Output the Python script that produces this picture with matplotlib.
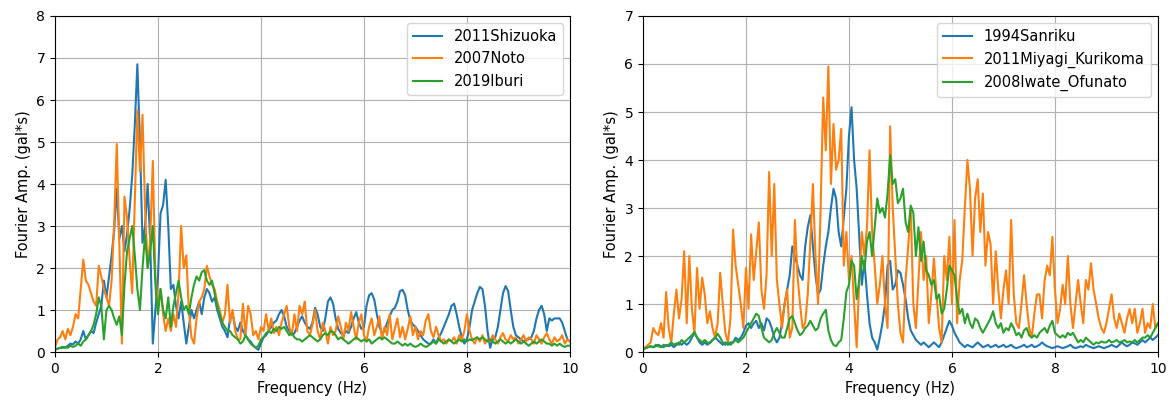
import numpy as np
import matplotlib
matplotlib.use("Agg")
import matplotlib.pyplot as plt

# frequency grid, 0.05 Hz spacing (one row of values per Hz below)
FREQ = np.round(np.arange(0, 201) * 0.05, 2)

LEFT_NAMES = ["2011Shizuoka", "2007Noto", "2019Iburi"]
RIGHT_NAMES = ["1994Sanriku", "2011Miyagi_Kurikoma", "2008Iwate_Ofunato"]

shizuoka = [
    0.05, 0.08, 0.1, 0.12, 0.1, 0.15, 0.2, 0.18, 0.25, 0.2, 0.3, 0.5, 0.3, 0.4, 0.5, 0.45, 0.7, 0.9, 1.1, 1.7,
    1.3, 1.8, 2.3, 2.9, 3.9, 2.7, 3.0, 2.4, 2.8, 3.4, 4.2, 5.4, 6.85, 5.0, 2.6, 3.0, 4.0, 2.6, 0.2, 1.0,
    1.8, 3.3, 3.5, 4.1, 3.0, 1.5, 1.6, 1.1, 0.8, 1.2, 0.7, 0.2, 0.6, 1.0, 0.8, 1.0, 1.2, 0.9, 1.3, 1.5,
    1.4, 1.2, 1.3, 1.0, 0.8, 0.6, 0.5, 0.35, 0.8, 0.9, 0.6, 0.5, 0.7, 0.5, 0.4, 0.3, 0.25, 0.15, 0.1, 0.05,
    0.2, 0.35, 0.4, 0.5, 0.6, 0.7, 0.75, 0.9, 1.0, 0.85, 0.6, 0.5, 0.4, 0.45, 0.6, 0.75, 0.85, 0.7, 0.6, 0.55,
    0.7, 1.05, 0.9, 0.6, 0.5, 0.8, 1.2, 1.3, 1.15, 0.8, 0.55, 0.45, 0.4, 0.5, 0.45, 0.6, 0.8, 0.95, 0.7, 0.55,
    0.6, 1.1, 1.35, 1.4, 1.25, 0.9, 0.6, 0.45, 0.5, 0.7, 0.85, 1.0, 1.05, 1.2, 1.45, 1.48, 1.35, 1.0, 0.75, 0.65,
    0.6, 0.5, 0.4, 0.3, 0.25, 0.2, 0.2, 0.3, 0.2, 0.35, 0.45, 0.6, 0.75, 0.9, 1.1, 1.15, 0.9, 0.6, 0.35, 0.2,
    0.3, 0.6, 1.0, 1.2, 1.4, 1.55, 1.5, 1.1, 0.5, 0.1, 0.3, 0.35, 0.6, 1.0, 1.4, 1.57, 1.45, 1.0, 0.6, 0.4,
    0.35, 0.3, 0.25, 0.3, 0.3, 0.35, 0.5, 0.8, 1.0, 1.1, 0.9, 0.5, 0.8, 0.75, 0.8, 0.8, 0.8, 0.7, 0.5, 0.3,
    0.25,
]

noto = [
    0.1, 0.3, 0.35, 0.5, 0.3, 0.55, 0.4, 0.6, 0.9, 0.8, 1.5, 2.2, 1.7, 1.6, 1.4, 1.2, 1.1, 2.05, 1.8, 1.5,
    1.3, 1.1, 1.7, 3.1, 4.95, 2.6, 0.2, 3.7, 3.2, 2.2, 1.4, 3.6, 5.75, 4.3, 5.65, 3.4, 2.0, 2.7, 4.55, 1.8,
    1.1, 1.5, 0.9, 0.5, 0.8, 0.5, 0.9, 0.6, 1.4, 3.0, 2.0, 2.3, 1.0, 0.35, 0.2, 0.8, 1.2, 1.3, 1.5, 2.05,
    1.8, 1.6, 1.5, 1.2, 1.0, 0.7, 0.9, 1.6, 0.7, 1.0, 0.5, 0.3, 0.3, 1.15, 0.4, 1.1, 0.9, 0.4, 0.5, 0.3,
    0.6, 0.5, 0.9, 0.5, 0.8, 0.45, 0.6, 0.4, 0.7, 0.9, 1.1, 0.6, 0.4, 0.9, 0.5, 1.1, 0.9, 1.2, 0.5, 0.4,
    0.65, 1.0, 0.5, 0.3, 0.7, 0.5, 0.2, 0.6, 0.4, 0.5, 0.85, 0.6, 0.3, 0.7, 0.5, 0.95, 0.6, 0.3, 0.7, 0.9,
    0.4, 0.25, 0.6, 0.8, 0.4, 0.6, 0.85, 0.3, 0.6, 0.4, 0.9, 0.3, 0.55, 0.8, 0.35, 0.6, 0.3, 0.55, 0.85, 0.4,
    0.6, 0.3, 0.5, 0.4, 0.75, 0.9, 0.5, 0.35, 0.6, 0.4, 0.25, 0.3, 0.2, 0.3, 0.25, 0.35, 0.2, 0.4, 0.3, 0.5,
    0.9, 0.5, 0.3, 0.2, 0.35, 0.25, 0.4, 0.2, 0.3, 0.25, 0.4, 0.3, 0.2, 0.35, 0.45, 0.3, 0.25, 0.4, 0.3, 0.35,
    0.2, 0.3, 0.4, 0.25, 0.35, 0.3, 0.2, 0.4, 0.3, 0.2, 0.35, 0.45, 0.3, 0.2, 0.35, 0.25, 0.3, 0.4, 0.2, 0.3,
    0.25,
]

iburi = [
    0.05, 0.08, 0.1, 0.1, 0.12, 0.1, 0.15, 0.12, 0.15, 0.2, 0.15, 0.25, 0.3, 0.4, 0.5, 0.65, 0.9, 1.3, 1.1, 0.3,
    1.0, 1.1, 1.0, 0.8, 0.65, 0.85, 0.4, 1.6, 2.4, 2.7, 3.0, 2.3, 1.5, 1.0, 2.0, 2.8, 2.0, 2.4, 3.0, 1.6,
    0.9, 1.5, 1.0, 0.8, 1.3, 0.6, 1.1, 1.4, 1.7, 1.3, 1.0, 1.1, 0.9, 1.3, 1.6, 1.8, 1.7, 1.9, 1.95, 1.7,
    1.6, 1.7, 1.4, 1.1, 0.9, 0.7, 0.6, 0.5, 0.5, 0.4, 0.35, 0.3, 0.2, 0.25, 0.4, 0.3, 0.2, 0.15, 0.1, 0.15,
    0.3, 0.35, 0.45, 0.5, 0.45, 0.55, 0.5, 0.6, 0.55, 0.6, 0.5, 0.4, 0.45, 0.35, 0.3, 0.3, 0.25, 0.3, 0.35, 0.4,
    0.35, 0.3, 0.25, 0.3, 0.4, 0.45, 0.4, 0.5, 0.48, 0.4, 0.3, 0.35, 0.3, 0.25, 0.2, 0.25, 0.3, 0.35, 0.3, 0.25,
    0.3, 0.25, 0.3, 0.2, 0.25, 0.3, 0.35, 0.3, 0.35, 0.3, 0.25, 0.2, 0.2, 0.25, 0.2, 0.15, 0.2, 0.15, 0.2, 0.15,
    0.12, 0.15, 0.2, 0.15, 0.12, 0.15, 0.2, 0.25, 0.2, 0.3, 0.25, 0.2, 0.25, 0.3, 0.25, 0.2, 0.25, 0.3, 0.25, 0.3,
    0.25, 0.3, 0.28, 0.32, 0.35, 0.3, 0.35, 0.3, 0.25, 0.3, 0.25, 0.2, 0.25, 0.3, 0.25, 0.2, 0.25, 0.2, 0.25, 0.3,
    0.25, 0.2, 0.25, 0.2, 0.15, 0.2, 0.25, 0.2, 0.25, 0.3, 0.25, 0.2, 0.2, 0.15, 0.2, 0.15, 0.2, 0.15, 0.12, 0.15,
    0.15,
]

sanriku = [
    0.05, 0.08, 0.1, 0.12, 0.1, 0.12, 0.15, 0.12, 0.1, 0.15, 0.12, 0.15, 0.1, 0.15, 0.2, 0.15, 0.2, 0.15, 0.2, 0.3,
    0.4, 0.3, 0.2, 0.15, 0.2, 0.15, 0.2, 0.25, 0.3, 0.25, 0.2, 0.15, 0.2, 0.15, 0.2, 0.2, 0.3, 0.25, 0.3, 0.4,
    0.55, 0.6, 0.5, 0.6, 0.65, 0.5, 0.6, 0.45, 0.7, 0.65, 0.5, 0.3, 0.2, 0.3, 0.6, 1.0, 1.3, 1.6, 2.2, 2.0,
    1.8, 1.6, 1.5, 2.2, 2.6, 2.85, 2.2, 1.6, 1.2, 1.3, 1.8, 2.2, 2.5, 3.0, 3.4, 3.2, 2.5, 2.2, 2.8, 3.4,
    4.5, 5.1, 4.0, 3.4, 2.4, 1.4, 1.9, 1.2, 0.6, 0.3, 0.2, 0.05, 0.3, 0.6, 1.0, 1.8, 1.9, 1.3, 1.4, 1.7,
    1.65, 1.4, 1.1, 0.7, 0.45, 0.35, 0.25, 0.2, 0.15, 0.2, 0.15, 0.1, 0.15, 0.2, 0.15, 0.1, 0.2, 0.35, 0.5, 0.65,
    0.55, 0.4, 0.3, 0.2, 0.15, 0.1, 0.15, 0.12, 0.1, 0.15, 0.2, 0.15, 0.1, 0.12, 0.15, 0.1, 0.12, 0.15, 0.1, 0.12,
    0.15, 0.1, 0.12, 0.15, 0.1, 0.08, 0.1, 0.12, 0.15, 0.1, 0.12, 0.15, 0.1, 0.12, 0.15, 0.2, 0.15, 0.12, 0.1, 0.08,
    0.1, 0.12, 0.1, 0.08, 0.1, 0.12, 0.15, 0.1, 0.08, 0.1, 0.12, 0.1, 0.15, 0.12, 0.1, 0.08, 0.1, 0.12, 0.1, 0.08,
    0.1, 0.12, 0.15, 0.12, 0.1, 0.15, 0.2, 0.15, 0.12, 0.15, 0.2, 0.18, 0.15, 0.2, 0.25, 0.2, 0.25, 0.3, 0.25, 0.3,
    0.35,
]

kurikoma = [
    0.05, 0.1, 0.15, 0.2, 0.5, 0.4, 0.35, 0.6, 0.3, 1.25, 0.5, 0.2, 0.8, 1.3, 0.7, 1.1, 2.1, 0.6, 2.0, 0.9,
    0.4, 1.75, 0.9, 1.55, 1.2, 0.6, 0.85, 0.5, 0.3, 0.6, 1.65, 1.0, 0.4, 0.2, 0.7, 2.55, 1.8, 1.4, 1.0, 0.5,
    1.75, 0.9, 2.45, 1.5, 2.1, 2.7, 1.3, 0.9, 1.6, 3.75, 2.0, 3.5, 1.5, 1.0, 0.5, 1.0, 1.3, 0.3, 0.5, 2.75,
    1.6, 1.0, 0.5, 0.6, 1.2, 2.3, 3.5, 2.0, 1.0, 3.0, 5.3, 4.2, 5.95, 3.5, 4.75, 3.8, 4.0, 4.65, 1.8, 2.5,
    1.5, 2.0, 1.0, 0.1, 1.5, 2.5, 2.0, 2.6, 4.2, 2.5, 1.8, 1.0, 1.4, 2.0, 1.0, 0.5, 4.7, 3.0, 2.0, 1.0,
    0.4, 0.2, 1.5, 2.2, 3.0, 1.0, 0.5, 1.5, 2.5, 1.5, 2.0, 0.6, 1.2, 1.95, 1.2, 0.5, 0.2, 2.0, 1.5, 2.4,
    1.0, 2.75, 0.6, 1.5, 1.9, 3.0, 4.0, 3.4, 2.0, 3.2, 3.6, 2.5, 3.3, 1.8, 2.5, 2.25, 1.0, 2.1, 1.3, 0.7,
    1.3, 1.7, 1.0, 2.75, 1.2, 0.6, 0.5, 1.0, 1.6, 1.0, 0.5, 0.3, 0.8, 1.2, 1.2, 0.7, 1.5, 1.8, 1.6, 2.4,
    1.3, 0.6, 0.9, 1.4, 1.0, 2.0, 1.0, 0.5, 1.0, 1.5, 1.0, 0.6, 1.5, 1.3, 1.85, 1.3, 1.0, 0.7, 0.5, 0.4,
    0.6, 0.9, 1.2, 0.7, 0.5, 0.8, 0.6, 0.4, 0.7, 0.9, 0.6, 0.9, 0.4, 0.6, 0.9, 0.4, 0.6, 0.5, 1.0, 0.5,
    0.6,
]

ofunato = [
    0.05, 0.08, 0.1, 0.12, 0.1, 0.15, 0.12, 0.1, 0.15, 0.12, 0.15, 0.2, 0.15, 0.18, 0.15, 0.25, 0.2, 0.25, 0.3, 0.35,
    0.42, 0.3, 0.25, 0.2, 0.25, 0.2, 0.18, 0.25, 0.3, 0.38, 0.3, 0.2, 0.15, 0.2, 0.15, 0.2, 0.25, 0.2, 0.25, 0.3,
    0.4, 0.5, 0.6, 0.7, 0.8, 0.75, 0.5, 0.3, 0.25, 0.2, 0.25, 0.4, 0.5, 0.4, 0.3, 0.3, 0.5, 0.7, 0.75, 0.6,
    0.45, 0.35, 0.4, 0.5, 0.55, 0.65, 0.55, 0.45, 0.5, 0.7, 0.8, 0.88, 0.45, 0.25, 0.15, 0.12, 0.2, 0.25, 0.7, 1.25,
    1.4, 1.9, 1.8, 1.1, 1.5, 2.0, 1.7, 2.3, 2.5, 2.0, 2.6, 3.2, 2.9, 3.0, 2.8, 3.3, 4.1, 3.5, 3.6, 3.1,
    3.2, 3.4, 2.7, 2.5, 3.05, 2.9, 2.0, 2.6, 1.9, 2.3, 1.7, 1.6, 1.4, 1.5, 1.1, 1.2, 0.8, 0.9, 1.3, 1.8,
    1.7, 1.6, 1.1, 0.8, 0.9, 0.6, 0.8, 0.6, 0.5, 0.7, 0.65, 0.5, 0.4, 0.5, 0.6, 0.7, 0.85, 0.6, 0.5, 0.6,
    0.4, 0.5, 0.45, 0.6, 0.5, 0.35, 0.4, 0.3, 0.45, 0.5, 0.35, 0.3, 0.35, 0.3, 0.4, 0.45, 0.5, 0.4, 0.55, 0.65,
    0.4, 0.35, 0.3, 0.35, 0.3, 0.4, 0.35, 0.4, 0.3, 0.2, 0.25, 0.2, 0.3, 0.25, 0.2, 0.15, 0.2, 0.18, 0.22, 0.2,
    0.2, 0.25, 0.2, 0.22, 0.25, 0.2, 0.22, 0.25, 0.2, 0.22, 0.2, 0.25, 0.2, 0.25, 0.3, 0.3, 0.35, 0.3, 0.4, 0.5,
    0.6,
]


def draw_panel(ax, names, series, ymax):
    for name, values in zip(names, series):
        ax.plot(FREQ, values, label=name, lw=1.5)
    ax.set_xlim(0, 10)
    ax.set_ylim(0, ymax)
    ax.grid(True)
    ax.set_xlabel("Frequency (Hz)", fontsize=10.5)
    ax.set_ylabel("Fourier Amp. (gal*s)", fontsize=10.5)
    ax.legend(loc="upper right", fontsize=10.5)


fig = plt.figure(figsize=(11.72, 4.04), dpi=100)
ax1 = fig.add_axes([0.0469, 0.1287, 0.4394, 0.8317])
ax2 = fig.add_axes([0.5486, 0.1287, 0.4394, 0.8317])

draw_panel(ax1, LEFT_NAMES, [shizuoka, noto, iburi], 8)
draw_panel(ax2, RIGHT_NAMES, [sanriku, kurikoma, ofunato], 7)

fig.savefig("out.png", dpi=100)
